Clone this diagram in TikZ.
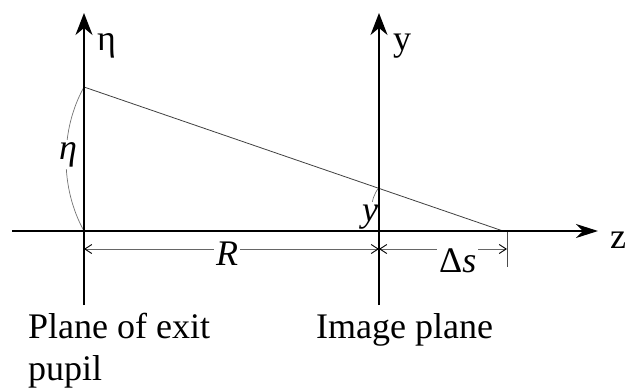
\documentclass[tikz,border=0pt]{standalone}
\usepackage{fontspec}
\setmainfont{Liberation Serif}
\usetikzlibrary{arrows.meta}
\tikzset{
  axis/.style={line width=1.5pt, draw=black},
  vaxistip/.style={-{Stealth[length=22pt,width=17pt,inset=7pt]}},
  haxistip/.style={-{Stealth[length=22pt,width=14pt,inset=7pt]}},
  ray/.style={line width=0.8pt, draw=black!75},
  arcline/.style={line width=0.7pt, draw=black!55},
  dimline/.style={line width=0.7pt, draw=black!60, {Straight Barb[length=7pt,width=9pt,line width=0.9pt,color=black]}-{Straight Barb[length=7pt,width=9pt,line width=0.9pt,color=black]}},
  extline/.style={line width=0.7pt, draw=black!70},
  lbl/.style={font=\fontsize{36}{42}\selectfont, inner sep=0pt, anchor=base west},
  wlbl/.style={lbl, fill=white, inner sep=2pt}
}
\begin{document}
\begin{tikzpicture}[x=1pt,y=-1pt]
\useasboundingbox (0,0) rectangle (626,388);
% key points
\coordinate (Lbot) at (84,305);
\coordinate (Ltop) at (84,13);
\coordinate (Rbot) at (379,305);
\coordinate (Rtop) at (379,13);
\coordinate (Zl) at (12,231);
\coordinate (Zr) at (598,231);
\coordinate (O1) at (84,231);
\coordinate (O2) at (379,231);
\coordinate (P) at (84,87);
\coordinate (Q) at (379,187.5);
\coordinate (F) at (503,231);
\coordinate (D1) at (84,249);
\coordinate (D2) at (379,249);
\coordinate (D3) at (507,249);
\coordinate (E1) at (507,231);
\coordinate (E2) at (507,267);
% arcs
\draw[arcline] (P) .. controls (60,130) and (60,188) .. (O1);
\draw[arcline] (Q) .. controls (369,200) and (369,218) .. (O2);
% dimension lines
\draw[dimline] (D1) -- (D2);
\draw[dimline] (D2) -- (D3);
\draw[extline] (E1) -- (E2);
% labels with white background
\node[wlbl] (etaI) at (57,159) {\itshape η};
\node[wlbl] (yI) at (360,221) {\itshape y};
\node[wlbl] (R) at (214,265) {\itshape R};
\node[wlbl, inner ysep=6pt] (ds) at (437,272) {Δ\textit{s}};
% ray
\draw[ray] (P) -- (F);
% axes
\draw[axis, vaxistip] (Lbot) -- (Ltop);
\draw[axis, vaxistip] (Rbot) -- (Rtop);
\draw[axis, haxistip] (Zl) -- (Zr);
\draw[line width=2.4pt] (P) -- (O1);
% axis labels
\node[lbl] (eta) at (97,50) {η};
\node[lbl] (yy) at (393,50) {y};
\node[lbl] (zz) at (610,248) {z};
% captions
\node[lbl] (pl1) at (28,338) {Plane of exit};
\node[lbl] (pl2) at (28,380) {pupil};
\node[lbl] (im) at (316,338) {Image plane};
\end{tikzpicture}
\end{document}
